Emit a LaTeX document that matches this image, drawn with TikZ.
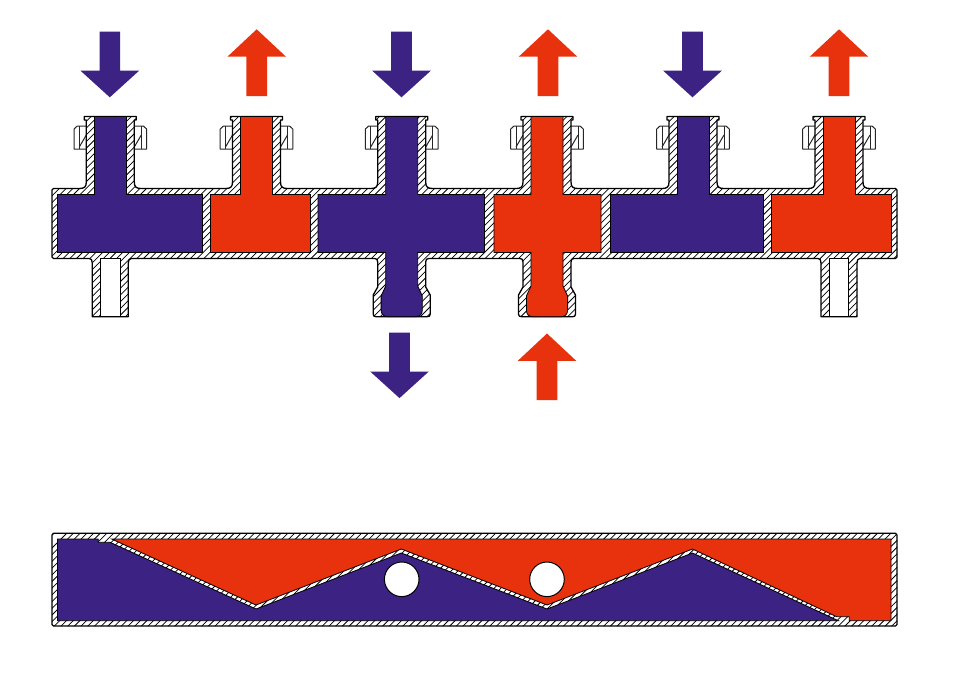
\documentclass[tikz,border=0pt]{standalone}
\definecolor{bluefl}{HTML}{3B2283}
\definecolor{redfl}{HTML}{E8320E}
\tikzset{
  x=1pt,y=-1pt,
  hatchline/.style={draw=black,line width=0.75pt},
  outl/.style={draw=black,line width=1.3pt,line join=round},
  boltline/.style={draw=black!85,line width=1pt,line join=round},
  bluearrow/.style={fill=bluefl},
  redarrow/.style={fill=redfl},
  bluefill/.style={fill=bluefl,draw=black,line width=0.8pt},
  redfill/.style={fill=redfl,draw=black,line width=0.8pt},
}
\newcommand{\downarr}[2]{\fill[bluearrow] (#1-10.3,#2) -- (#1+10.3,#2) -- (#1+10.3,#2+39) -- (#1+29.3,#2+39) -- (#1,#2+65.6) -- (#1-29.3,#2+39) -- (#1-10.3,#2+39) -- cycle;}
\newcommand{\uparr}[2]{\fill[redarrow] (#1-10.3,#2+66.7) -- (#1+10.3,#2+66.7) -- (#1+10.3,#2+27.4) -- (#1+29.3,#2+27.4) -- (#1,#2) -- (#1-29.3,#2+27.4) -- (#1-10.3,#2+27.4) -- cycle;}
\newcommand{\bolts}[1]{%
  \filldraw[fill=white,boltline] (#1-36.3,129) -- (#1-33,126) -- (#1-23,126) -- (#1-23,149) -- (#1-36.3,149) -- cycle;
  \draw[boltline] (#1-31,126) -- (#1-31,149);
  \draw[boltline] (#1-31,147) -- (#1-24,135);
  \filldraw[fill=white,boltline] (#1+36.3,129) -- (#1+33,126) -- (#1+23,126) -- (#1+23,149) -- (#1+36.3,149) -- cycle;
  \draw[boltline] (#1+31,126) -- (#1+31,149);
  \draw[boltline] (#1+24,147) -- (#1+31,135);
}
\newcommand{\pipeup}[1]{-- (#1-31,188.5) .. controls (#1-26,188.5) and (#1-24,187) .. (#1-24,182) -- (#1-24,120) -- (#1-26,120) -- (#1-26,116.5) -- (#1+26,116.5) -- (#1+26,120) -- (#1+24,120) -- (#1+24,182) .. controls (#1+24,187) and (#1+26,188.5) .. (#1+31,188.5)}
\newcommand{\stubdown}[1]{-- (#1+21,258.5) .. controls (#1+19,258.5) and (#1+18,260) .. (#1+18,263) -- (#1+18,316.7) -- (#1-18,316.7) -- (#1-18,263) .. controls (#1-18,260) and (#1-19,258.5) .. (#1-21,258.5)}
\newcommand{\flaredown}[1]{-- (#1+27,258.5) .. controls (#1+25,258.5) and (#1+24,259.5) .. (#1+24,262) -- (#1+24,287) -- (#1+28.5,295) -- (#1+28.5,314) .. controls (#1+28.5,316) and (#1+27.5,316.7) .. (#1+25.5,316.7) -- (#1-25.5,316.7) .. controls (#1-27.5,316.7) and (#1-28.5,316) .. (#1-28.5,314) -- (#1-28.5,295) -- (#1-24,287) -- (#1-24,262) .. controls (#1-24,259.5) and (#1-25,258.5) .. (#1-27,258.5)}
\newcommand{\bodypath}{(52,190) -- (53.5,188.5) \pipeup{110.3} \pipeup{256.5} \pipeup{401.7} \pipeup{547} \pipeup{693} \pipeup{839} -- (895.5,188.5) -- (897,190) -- (897,257) -- (895.5,258.5) \stubdown{839} \flaredown{547} \flaredown{401.7} \stubdown{110.3} -- (53.5,258.5) -- (52,257) -- cycle}
\newcommand{\lowerpath}{(52,535) -- (53.5,533.3) -- (895.5,533.3) -- (897,535) -- (897,624.5) -- (895.5,626) -- (53.5,626) -- (52,624.5) -- cycle}
\begin{document}
\begin{tikzpicture}
\useasboundingbox (0,0) rectangle (960,689);
\fill[white] (0,0) rectangle (960,689);
% arrows
\downarr{109.8}{31.7}\uparr{256.7}{29.3}\downarr{401.5}{31.7}\uparr{548}{29.3}\downarr{692.5}{31.7}\uparr{839}{29.3}
\downarr{399.5}{332.5}\uparr{547}{333.5}
% bolts
\foreach \c in {110.3,256.5,401.7,547,693,839} {\bolts{\c}}
% manifold walls
\fill[white] \bodypath;
\begin{scope}
  \clip \bodypath;
  \foreach \i in {-700,-693.3,...,960} \draw[hatchline] (\i,700) -- (\i+700,0);
\end{scope}
\foreach \c in {110.3,839} {
  \filldraw[fill=white,draw=black,line width=0.9pt] (\c-9.7,258.5) rectangle (\c+9.7,316.7);
}
\draw[outl] \bodypath;
% chambers
\filldraw[bluefill] (57.5,194.5) -- (94.3,194.5) -- (94.3,116.5) -- (126.3,116.5) -- (126.3,194.5) -- (202.5,194.5) -- (202.5,252.5) -- (57.5,252.5) -- cycle;
\filldraw[redfill] (210.5,194.5) -- (240.5,194.5) -- (240.5,116.5) -- (272.5,116.5) -- (272.5,194.5) -- (310,194.5) -- (310,252.5) -- (210.5,252.5) -- cycle;
\filldraw[bluefill] (318,194.5) -- (385.7,194.5) -- (385.7,116.5) -- (417.7,116.5) -- (417.7,194.5) -- (484.5,194.5) -- (484.5,252.5) -- (417.7,252.5) -- (417.7,286) -- (422.3,296) -- (422.3,310) .. controls (422.3,314) and (420,316.7) .. (416,316.7) -- (387.4,316.7) .. controls (383.4,316.7) and (381.1,314) .. (381.1,310) -- (381.1,296) -- (385.7,286) -- (385.7,252.5) -- (318,252.5) -- cycle;
\filldraw[redfill] (494,194.5) -- (531,194.5) -- (531,116.5) -- (563,116.5) -- (563,194.5) -- (601,194.5) -- (601,252.5) -- (563,252.5) -- (563,286) -- (567.6,296) -- (567.6,310) .. controls (567.6,314) and (565.3,316.7) .. (561.3,316.7) -- (532.7,316.7) .. controls (528.7,316.7) and (526.4,314) .. (526.4,310) -- (526.4,296) -- (531,286) -- (531,252.5) -- (494,252.5) -- cycle;
\filldraw[bluefill] (610,194.5) -- (677,194.5) -- (677,116.5) -- (709,116.5) -- (709,194.5) -- (763,194.5) -- (763,252.5) -- (610,252.5) -- cycle;
\filldraw[redfill] (771,194.5) -- (823,194.5) -- (823,116.5) -- (855,116.5) -- (855,194.5) -- (891,194.5) -- (891,252.5) -- (771,252.5) -- cycle;
% lower manifold
\fill[white] \lowerpath;
\begin{scope}
  \clip \lowerpath;
  \foreach \i in {-100,-93.3,...,960} \draw[hatchline] (\i,700) -- (\i+700,0);
\end{scope}
\draw[outl] \lowerpath;
\filldraw[bluefill] (57.5,539) -- (98.3,539) -- (98.3,542.3) -- (110,542.3) -- (256,609) -- (401.3,553) -- (547,609) -- (692.5,553) -- (838.3,620.7) -- (57.5,620.7) -- cycle;
\filldraw[redfill] (111.7,539) -- (891,539) -- (891,620.7) -- (849.3,620.7) -- (849.3,616.7) -- (836.7,616.7) -- (692.5,549) -- (547,605) -- (401.3,549) -- (256,605) -- cycle;
\node[circle,draw=black,fill=white,line width=1pt,minimum size=34.6pt,inner sep=0pt] (c1) at (401.7,579.3) {};
\node[circle,draw=black,fill=white,line width=1pt,minimum size=34.6pt,inner sep=0pt] (c2) at (547,579.3) {};
\end{tikzpicture}
\end{document}
